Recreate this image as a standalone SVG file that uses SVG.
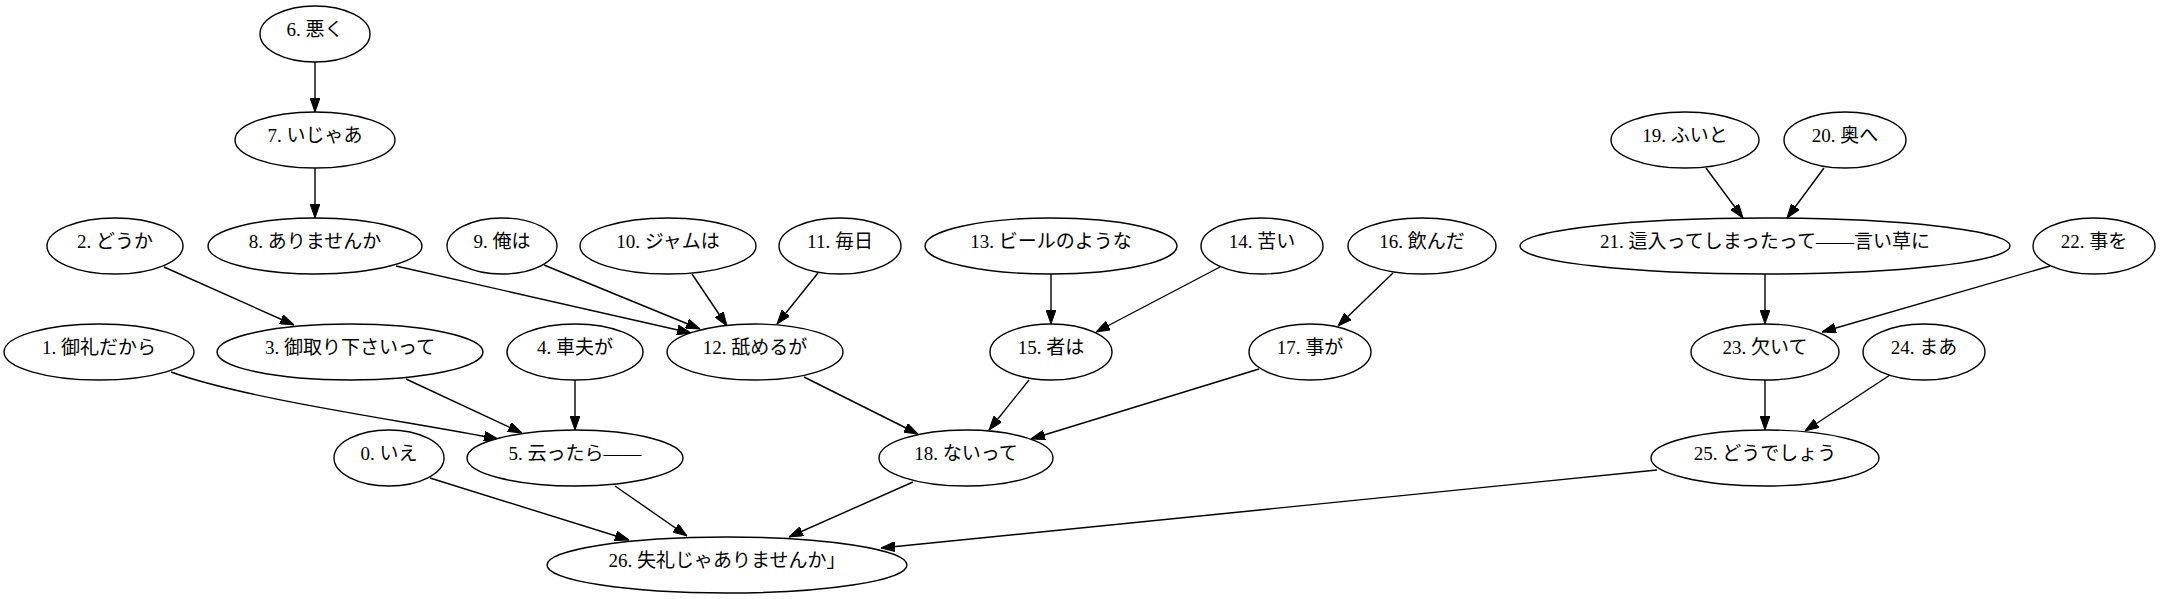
<svg xmlns="http://www.w3.org/2000/svg" width="2161" height="599" viewBox="0 0 2161 599">
<style>
.n ellipse{fill:#fff;stroke:#000;stroke-width:1.4}
.n text{font-family:"Liberation Serif","Noto Sans CJK JP",serif;font-size:19px;text-anchor:middle;fill:#000}
#edges path{fill:none;stroke:#000;stroke-width:1.4;marker-end:url(#arr)}
</style>
<defs>
<marker id="arr" markerUnits="userSpaceOnUse" markerWidth="14" markerHeight="10" refX="14" refY="5" orient="auto">
<path d="M0,0.1 L14,5 L0,9.9 z" fill="#000" stroke="#000" stroke-width="1"/>
</marker>
</defs>
<rect width="2161" height="599" fill="#fff"/>
<g id="edges">
<path d="M315,62 L315,112"/>
<path d="M315,168 L315,218"/>
<path d="M164,267 L294,325"/>
<path d="M396,266 L691,333"/>
<path d="M544,265 L700,329"/>
<path d="M692,274 L727,326"/>
<path d="M818,273 L777,324"/>
<path d="M1051,274 L1051,324"/>
<path d="M1220,267 L1096,332"/>
<path d="M1393,273 L1338,326"/>
<path d="M1706,168 L1743,218"/>
<path d="M1824,168 L1787,218"/>
<path d="M1765,274 L1765,324"/>
<path d="M2050,266 L1822,332"/>
<path d="M171,372 C250,400 400,420 498,439"/>
<path d="M406,379 L522,433"/>
<path d="M575,380 L575,430"/>
<path d="M804,377 L918,434"/>
<path d="M1029,380 L989,430"/>
<path d="M1259,369 L1031,439"/>
<path d="M1765,380 L1765,430"/>
<path d="M1890,375 L1805,431"/>
<path d="M430,478 L629,540"/>
<path d="M615,486 L687,536"/>
<path d="M913,482 L789,537"/>
<path d="M1657,470 L881,548"/>
</g>
<g id="node6" class="n"><ellipse cx="315" cy="34" rx="55" ry="28"/><text x="315" y="36">6. 悪く</text></g>
<g id="node7" class="n"><ellipse cx="315" cy="140" rx="80" ry="28"/><text x="315" y="142">7. いじゃあ</text></g>
<g id="node19" class="n"><ellipse cx="1685" cy="140" rx="74" ry="28"/><text x="1685" y="142">19. ふいと</text></g>
<g id="node20" class="n"><ellipse cx="1845" cy="140" rx="61" ry="28"/><text x="1845" y="142">20. 奥へ</text></g>
<g id="node2" class="n"><ellipse cx="115" cy="246" rx="68" ry="28"/><text x="115" y="248">2. どうか</text></g>
<g id="node8" class="n"><ellipse cx="315" cy="246" rx="107" ry="28"/><text x="315" y="248">8. ありませんか</text></g>
<g id="node9" class="n"><ellipse cx="502" cy="246" rx="55" ry="28"/><text x="502" y="248">9. 俺は</text></g>
<g id="node10" class="n"><ellipse cx="668" cy="246" rx="88" ry="28"/><text x="668" y="248">10. ジャムは</text></g>
<g id="node11" class="n"><ellipse cx="840" cy="246" rx="61" ry="28"/><text x="840" y="248">11. 毎日</text></g>
<g id="node13" class="n"><ellipse cx="1051" cy="246" rx="126" ry="28"/><text x="1051" y="248">13. ビールのような</text></g>
<g id="node14" class="n"><ellipse cx="1262" cy="246" rx="61" ry="28"/><text x="1262" y="248">14. 苦い</text></g>
<g id="node16" class="n"><ellipse cx="1422" cy="246" rx="74" ry="28"/><text x="1422" y="248">16. 飲んだ</text></g>
<g id="node21" class="n"><ellipse cx="1765" cy="246" rx="245" ry="28"/><text x="1765" y="248">21. 這入ってしまったって——言い草に</text></g>
<g id="node22" class="n"><ellipse cx="2094" cy="246" rx="61" ry="28"/><text x="2094" y="248">22. 事を</text></g>
<g id="node1" class="n"><ellipse cx="99" cy="352" rx="95" ry="28"/><text x="99" y="354">1. 御礼だから</text></g>
<g id="node3" class="n"><ellipse cx="350" cy="352" rx="133" ry="28"/><text x="350" y="354">3. 御取り下さいって</text></g>
<g id="node4" class="n"><ellipse cx="575" cy="352" rx="68" ry="28"/><text x="575" y="354">4. 車夫が</text></g>
<g id="node12" class="n"><ellipse cx="755" cy="352" rx="88" ry="28"/><text x="755" y="354">12. 舐めるが</text></g>
<g id="node15" class="n"><ellipse cx="1051" cy="352" rx="61" ry="28"/><text x="1051" y="354">15. 者は</text></g>
<g id="node17" class="n"><ellipse cx="1310" cy="352" rx="61" ry="28"/><text x="1310" y="354">17. 事が</text></g>
<g id="node23" class="n"><ellipse cx="1765" cy="352" rx="74" ry="28"/><text x="1765" y="354">23. 欠いて</text></g>
<g id="node24" class="n"><ellipse cx="1924" cy="352" rx="61" ry="28"/><text x="1924" y="354">24. まあ</text></g>
<g id="node0" class="n"><ellipse cx="389" cy="458" rx="55" ry="28"/><text x="389" y="460">0. いえ</text></g>
<g id="node5" class="n"><ellipse cx="575" cy="458" rx="108" ry="28"/><text x="575" y="460">5. 云ったら——</text></g>
<g id="node18" class="n"><ellipse cx="966" cy="458" rx="87" ry="28"/><text x="966" y="460">18. ないって</text></g>
<g id="node25" class="n"><ellipse cx="1765" cy="458" rx="114" ry="28"/><text x="1765" y="460">25. どうでしょう</text></g>
<g id="node26" class="n"><ellipse cx="727" cy="565" rx="180" ry="28"/><text x="727" y="567">26. 失礼じゃありませんか」</text></g>
</svg>
